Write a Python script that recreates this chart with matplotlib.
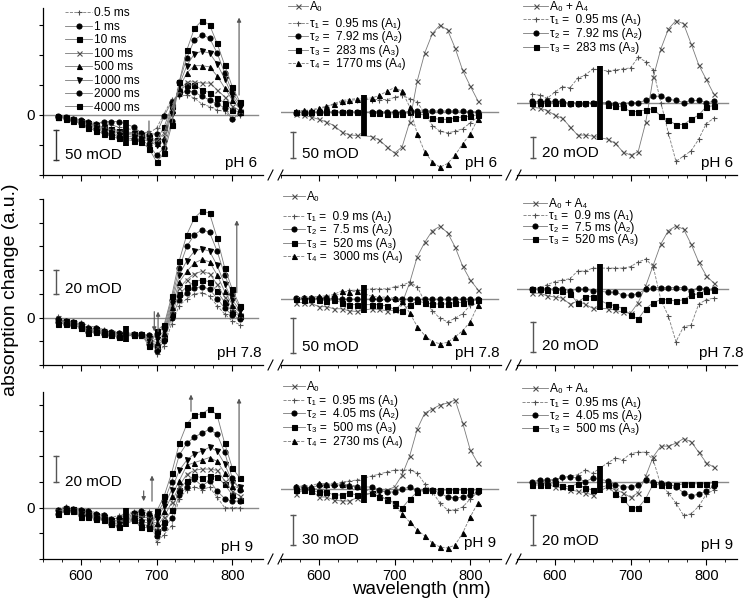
import matplotlib
matplotlib.use('Agg')
import matplotlib.pyplot as plt
from matplotlib.lines import Line2D

plt.rcParams['font.family'] = ['Liberation Sans', 'DejaVu Sans']

# ---------------- data ----------------
wavelengths = [570, 580, 590, 600, 610, 620, 630, 640, 650,
               670, 680, 690, 700, 710, 720, 730, 740, 750, 760, 770, 780, 790, 800, 810]

delay_labels = ['0.5 ms', '1 ms', '10 ms', '100 ms', '500 ms', '1000 ms', '2000 ms', '4000 ms']

# time-resolved spectra (mOD), one list per delay
ph6_delays = [
    [-2, -3, -5, -8, -10, -13, -15, -17, -20, -25, -28, -30, -22, 2, 26, 31, 33, 28, 18, 14, 8, 6, -7, 0],
    [-2, -3, -6, -9, -12, -15, -11, -11, -11, -20, -30, -33, -31, -2, 22, 35, 40, 38, 31, 25, 18, 12, -7, 3],
    [-3, -4, -7, -10, -14, -17, -20, -23, -26, -30, -33, -37, -42, -20, 15, 40, 50, 50, 42, 37, 28, 20, 8, 5],
    [-3, -4, -7, -11, -15, -18, -22, -25, -28, -32, -35, -40, -44, -30, 12, 40, 55, 55, 53, 53, 42, 30, 15, 7],
    [-3, -4, -8, -12, -16, -20, -24, -27, -30, -34, -37, -42, -47, -38, 8, 45, 70, 82, 82, 80, 65, 45, 25, 10],
    [-3, -5, -8, -13, -17, -22, -26, -30, -33, -37, -40, -44, -50, -45, 2, 50, 82, 102, 106, 103, 85, 60, 32, 14],
    [-4, -5, -9, -14, -19, -24, -28, -32, -36, -40, -42, -50, -67, -55, -10, 55, 95, 125, 133, 128, 103, 70, 38, 18],
    [-4, -6, -10, -15, -21, -27, -31, -35, -39, -43, -45, -56, -78, -64, -17, 55, 108, 144, 157, 150, 119, 83, 47, 22],
]
ph78_delays = [
    [1, -2, -3, -4, -7, -8, -10, -11, -12, -13, -15, -14, -31, -24, -5, 10, 16, 20, 21, 18, 10, 3, -3, -6],
    [-1, -3, -4, -5, -9, -9, -11, -12, -13, -14, -15, -15, -28, -20, 0, 15, 21, 25, 26, 24, 16, 8, 2, -1],
    [-2, -3, -4, -6, -10, -10, -12, -13, -14, -14, -15, -17, -26, -17, 3, 20, 26, 30, 32, 30, 22, 13, 5, 1],
    [-2, -4, -5, -6, -11, -11, -12, -13, -14, -15, -15, -18, -24, -15, 6, 25, 32, 37, 39, 37, 28, 17, 8, 2],
    [-3, -4, -5, -7, -11, -11, -13, -14, -15, -15, -15, -19, -21, -13, 9, 30, 39, 46, 49, 47, 36, 22, 11, 4],
    [-3, -4, -5, -7, -12, -12, -13, -14, -15, -15, -15, -21, -18, -11, 12, 36, 48, 56, 58, 56, 44, 28, 15, 6],
    [-4, -5, -6, -8, -12, -12, -14, -15, -16, -15, -14, -22, -14, -8, 15, 42, 60, 70, 74, 72, 56, 36, 20, 8],
    [-5, -5, -6, -9, -13, -12, -14, -15, -16, -15, -14, -24, -11, -6, 18, 48, 70, 84, 90, 88, 67, 42, 24, 10],
]
ph9_delays = [
    [-1, 1, 0, -1, -2, -4, -5, -8, -6, -3, -2, -3, -27, -21, -14, 7, 14, 16, 14, 16, 8, 0, 0, 0],
    [-2, 0, -1, -2, -3, -5, -6, -9, -8, -4, -3, -5, -22, -16, -8, 10, 16, 22, 17, 21, 13, 7, 5, 5],
    [-3, -1, -1, -3, -4, -6, -7, -10, -10, -5, -5, -7, -18, -11, -2, 14, 21, 25, 23, 25, 24, 18, 10, 6],
    [-3, -1, -2, -4, -5, -7, -8, -11, -11, -6, -7, -8, -15, -7, 4, 17, 26, 29, 30, 30, 29, 21, 13, 9],
    [-4, -2, -2, -5, -5, -8, -8, -12, -12, -7, -9, -10, -12, -3, 9, 21, 33, 35, 37, 39, 36, 27, 17, 15],
    [-4, -2, -3, -5, -6, -8, -9, -12, -13, -8, -11, -12, -9, 1, 14, 29, 37, 42, 44, 47, 44, 34, 20, 16],
    [-5, -3, -3, -6, -6, -9, -9, -13, -14, -9, -13, -14, -6, 5, 20, 41, 50, 55, 58, 61, 57, 43, 23, 14],
    [-5, -3, -3, -7, -7, -9, -10, -13, -15, -10, -15, -16, -3, 9, 27, 50, 65, 72, 73, 77, 72, 50, 31, 23],
]

# decay-associated spectra (mOD): A0, A1..A4
ph6_das_labels = ['A₀', 'τ₁ =  0.95 ms (A₁)', 'τ₂ =  7.92 ms (A₂)',
                  'τ₃ =  283 ms (A₃)', 'τ₄ =  1770 ms (A₄)']
ph6_das = [
    [-4.5, -6.4, -9.6, -14, -19, -26, -38, -44, -45, -47, -54, -67, -79, -67, -19, 60, 114, 151, 167, 158, 123, 80, 50, 22],
    [0, 1, 3, 6, 10, 15, 19, 22, 24, 24, 24, 24, 28, 32, 26, 19, -3, -26, -37, -40, -37, -32, -21, -9],
    [-1, -1, -1, 0, 0, 0, 0, 0, 0, 0, 0, 0, 0, 0, 1, 2, 2, 2, 2, 2, 2, 2, 1, 0],
    [0, 0, 0, 0, 0, 0, 0, 0, 0, -1, -2, -3, -4, -4, 0, -3, -6, -12, -14, -14, -12, -9, -8, -5],
    [2, 3, 4, 8, 11, 16, 22, 24, 26, 27, 32, 40, 47, 40, 10, -42, -77, -96, -106, -99, -83, -61, -42, -13],
]
ph78_das_labels = ['A₀', 'τ₁ =  0.9 ms (A₁)', 'τ₂ =  7.5 ms (A₂)',
                   'τ₃ =  520 ms (A₃)', 'τ₄ =  3000 ms (A₄)']
ph78_das = [
    [-5, -5, -6, -11, -11, -14, -14, -17, -18, -14, -15, -17, -16, -6, 24, 62, 83, 100, 106, 97, 76, 48, 28, 14],
    [-1, 0, 1, 2, 3, 5, 8, 13, 13, 15, 15, 15, 18, 20, 25, 18, -4, -17, -28, -33, -28, -21, -9, -6],
    [2, 1, 1, 1, 1, 1, 0, 0, 0, 0, 0, 0, 0, 0, 0, 0, 0, 0, 0, 0, 0, 0, 0, 0],
    [0, -1, 0, -1, -2, -1, -5, -8, -8, -8, -8, -10, -15, -17, -8, -3, -5, -7, -7, -7, -5, -5, -3, -1],
    [2, 3, 3, 4, 5, 7, 12, 10, 12, 4, 3, 3, 1, -3, -20, -40, -53, -62, -65, -63, -55, -46, -33, -9],
]
ph9_das_labels = ['A₀', 'τ₁ =  0.95 ms (A₁)', 'τ₂ =  4.05 ms (A₂)',
                  'τ₃ =  500 ms (A₃)', 'τ₄ =  2730 ms (A₄)']
ph9_das = [
    [-5, -1, -1, -8, -8, -11, -12, -12, -9, -4, -4, -1, 2, 14, 33, 60, 76, 80, 84, 86, 89, 66, 39, 26],
    [0, 0, 0, 0, 2, 4, 7, 8, 9, 13, 15, 17, 19, 19, 19, 16, 5, -3, -14, -21, -21, -18, -10, -3],
    [2, 2, 1, 4, 4, 4, 4, 3, 2, 2, -1, -3, -3, 0, 2, -1, -1, -1, -4, -8, -9, -8, -6, -3],
    [-1, -1, -2, -3, -3, -6, -6, -4, -6, -4, -8, -10, -14, -19, -10, -3, -1, -1, -1, -1, -1, -1, -1, -1],
    [3, 3, 3, 6, 5, 6, 5, 4, 3, -3, -6, -11, -16, -25, -33, -41, -47, -54, -58, -59, -56, -44, -28, -14],
]

# A0 + A4 together with A1..A3 (mOD)
ph6_sum_labels = ['A₀ + A₄', 'τ₁ =  0.95 ms (A₁)', 'τ₂ =  7.92 ms (A₂)', 'τ₃ =  283 ms (A₃)']
ph6_sum = [
    [-4.4, -5.4, -7.6, -12, -15, -23, -31, -31, -32, -35, -39, -47, -50, -47, -19, 24, 51, 70, 78, 75, 56, 36, 22, 8],
    [8, 7, 4, 10, 15, 14, 23, 26, 32, 30, 31, 32, 33, 43, 39, 31, 0, -29, -56, -51, -46, -35, -20, -15],
    [1, 1, 1, 1, 1, -1, -1, -1, 0, 0, -1, -1, 0, 0, 2, 6, 6, 3, 2, 0, 2, 2, 0, 1],
    [0, 0, 0, 0, 0, 0, 0, 0, 0, -2, -3, -4.4, -8.6, -8.6, -7, -6, -13, -17, -21, -21, -16, -12, -4, -3],
]
ph78_sum_labels = ['A₀ + A₄', 'τ₁ =  0.9 ms (A₁)', 'τ₂ =  7.5 ms (A₂)', 'τ₃ =  520 ms (A₃)']
ph78_sum = [
    [-2.7, -2.7, -4.4, -5.3, -6, -10, -8, -10, -12.7, -13, -14, -15.5, -16, -9, 2, 16, 30, 39, 42, 40, 30, 18, 9, 4],
    [0, 1, 3, 5, 6, 7, 12, 12, 14, 14, 14, 14, 15, 18, 20, 15, -7, -18, -35, -25, -24, -10, -7, -6],
    [0, 0, 0, 0, 0, -1, 0, 0, -1, -2, -2, -4, -4, -3, 0, 1, 1, 1, 1, 1, -1, 1, 0, 0],
    [0, 0, -0.4, -0.4, -1, -3, -9, -5, -5, -10, -11, -13, -17, -20, -13, -9, -7, -7, -8, -7, -4, -3, -1, -0.4],
]
ph9_sum_labels = ['A₀ + A₄', 'τ₁ =  0.95 ms (A₁)', 'τ₂ =  4.05 ms (A₂)', 'τ₃ =  500 ms (A₃)']
ph9_sum = [
    [-1, -0.7, -0.7, -3.3, -3.3, -5, -6, -7, -8.4, -3, -5, -7, -10, -7, 4, 17, 24, 24, 26, 29, 27, 20, 13, 10],
    [0, 1, 1, 2, 3, 4, 5, 8, 6, 13, 16, 15, 19, 20, 20, 15, -2, -7, -14, -22, -21, -16, -8, -5],
    [0.4, 1.5, 1.5, 1.5, 3.3, 3.8, 2.7, 0.4, 2.7, 1, -1.8, -2.9, -3.3, -1.8, 1.5, 0.4, -0.7, -1, -3, -7, -9, -8, -6, -2.4],
    [-1.8, -1.8, -1.8, -0.7, -2.4, -2.9, -1, -4, -5, -2, -8, -11, -17, -17, -11, -1, -2, -2, -2, -1, -1, -1, -1, -0.2],
]

# excitation-artefact bar at 660 nm (high, low) in mOD per panel
bar_ph6 = [(-8, -51), (33, -46), (35, -36)]
bar_ph78 = [(-7.5, -20.6), (20, -20), (17, -14)]
bar_ph9 = [(0, -15), (14, -14), (11, -7)]

scale_ph6 = [50, 50, 20]
scale_ph78 = [20, 50, 20]
scale_ph9 = [20, 30, 20]
ph_names = ['pH 6', 'pH 7.8', 'pH 9']

# ---------------- layout ----------------
W, H = 745, 609
fig = plt.figure(figsize=(W / 100, H / 100), dpi=100)
PXNM = 0.757
AXW = 290 * PXNM
col_left = [43, 281, 517]
row_tb = [(8, 175), (199, 365), (392, 559)]
ylims = [[(-100, 178), (-121, 200), (-69, 90)],
         [(-40, 100), (-96, 146), (-50.5, 60)],
         [(-40, 90), (-70, 97), (-51, 60)]]
left_ticks = [(-100, 150, 50), (-40, 100, 20), (-40, 80, 20)]

LC = '#7a7a7a'
delay_styles = [('+', '--'), ('o', '-'), ('s', '-'), ('x', '-'), ('^', '-'), ('v', '-'), ('o', '-'), ('s', '-')]
das_styles = [('x', '-'), ('+', '--'), ('o', '-'), ('s', '-'), ('^', '--')]
sum_styles = [('x', '-'), ('+', '--'), ('o', '-'), ('s', '-')]


def fx(x):
    return x / W


def fy(y):
    return 1 - y / H


def mcol(marker):
    return '#505050' if marker in ('x', '+') else 'black'


def draw_series(ax, values, marker, ls):
    c = mcol(marker)
    ax.plot(wavelengths, values, ls, color=LC, lw=0.6, marker=marker, ms=3.6,
            mfc=c, mec=c, mew=0.8)


def manual_legend(styles, labels, x0, x1, ys):
    for (m, ls), lab, y in zip(styles, labels, ys):
        fig.add_artist(Line2D([fx(x0), fx(x1)], [fy(y), fy(y)], color=LC, lw=0.6, ls=ls,
                              transform=fig.transFigure))
        c = mcol(m)
        fig.add_artist(Line2D([fx((x0 + x1) / 2)], [fy(y)], marker=m, ms=3.6, mfc=c, mec=c,
                              mew=0.8, ls='none', transform=fig.transFigure))
        # baseline placed so that capital letters are centred on the handle line
        fig.text(fx(x1 + 2), fy(y + 4.3), lab, fontsize=8.6, ha='left', va='baseline')


all_delays = [ph6_delays, ph78_delays, ph9_delays]
all_das = [(ph6_das, ph6_das_labels), (ph78_das, ph78_das_labels), (ph9_das, ph9_das_labels)]
all_sum = [(ph6_sum, ph6_sum_labels), (ph78_sum, ph78_sum_labels), (ph9_sum, ph9_sum_labels)]
all_bars = [bar_ph6, bar_ph78, bar_ph9]
all_scales = [scale_ph6, scale_ph78, scale_ph9]

scale_bar_pos = [
    [(567, -25, -75, -67), (565.5, -39, -89, -81), (570.7, -32.4, -52.4, -48)],
    [(567, 40, 20, 24), (565.5, -28, -78, -70), (570.7, -22, -42, -38)],
    [(567, 40, 20, 20), (565.5, -26, -56, -51), (570.7, -22, -42, -39)],
]
ph_pos = [[(257, 163), (497, 163), (733, 163)],
          [(262, 353), (500, 353), (744, 353)],
          [(253, 547), (496, 543), (733, 545)]]
legend_geom = {
    (0, 0): (65, 92, [12 + 13.5 * i for i in range(8)]),
    (0, 1): (288, 308, [6, 23, 36, 50, 63]),
    (0, 2): (523, 548, [6, 19, 33, 47]),
    (1, 1): (283, 305, [196, 216, 229, 243, 256]),
    (1, 2): (523, 547, [203, 214.5, 226.5, 238.5]),
    (2, 1): (283, 305, [386, 400, 413, 427, 441]),
    (2, 2): (522, 548, [388, 402, 415, 428]),
}
arrows = [
    [(690, -10, -35), (809, 33, 162)],
    [(697, 5, -11.7), (702, -11.7, 5), (806, 21, 82)],
    [(683, 13, 5), (694, 5, 25), (745.5, 75, 88), (809, 24, 85)],
]

for r in range(3):
    top, bot = row_tb[r]
    for c in range(3):
        ax = fig.add_axes([col_left[c] / W, 1 - bot / H, AXW / W, (bot - top) / H])
        ax.set_xlim(550, 840)
        ax.set_ylim(*ylims[r][c])
        ax.patch.set_alpha(0)
        for s in ('top', 'right'):
            ax.spines[s].set_visible(False)
        ax.spines['bottom'].set_linewidth(0.9)
        ax.set_xticks([600, 700, 800])
        ax.set_xticks(list(range(550, 841, 25)), minor=True)
        ax.tick_params(axis='x', which='major', direction='out', length=4, width=0.8,
                       labelsize=10.5, labelbottom=(r == 2), pad=3)
        ax.tick_params(axis='x', which='minor', direction='out', length=2.2, width=0.6)
        if c == 0:
            lo, hi, st = left_ticks[r]
            ticks = list(range(lo, hi + 1, st))
            ax.set_yticks(ticks)
            ax.set_yticklabels(['0' if t == 0 else '' for t in ticks])
            ax.tick_params(axis='y', direction='out', length=3, width=0.8, labelsize=11, pad=3)
            ax.spines['left'].set_linewidth(0.9)
            ax.axhline(0, color='#8a8a8a', lw=1.0, xmin=0, xmax=0.98)
        else:
            ax.spines['left'].set_visible(False)
            ax.tick_params(axis='y', left=False, labelleft=False)
            ax.axhline(0, color='#8a8a8a', lw=1.0, xmin=0.0, xmax=0.96 if c == 2 else 0.99)

        if c == 0:
            styles, labels = delay_styles, delay_labels
            data = all_delays[r]
        elif c == 1:
            styles = das_styles
            data, labels = all_das[r]
        else:
            styles = sum_styles
            data, labels = all_sum[r]
        for (m, ls), vals in zip(styles, data):
            draw_series(ax, vals, m, ls)

        # artefact bar at 660 nm
        b_hi, b_lo = all_bars[r][c]
        ax.plot([660, 660], [b_lo, b_hi], color='black', lw=4.2, solid_capstyle='butt', zorder=5)

        # scale bar
        sx, sy0, sy1, ty = scale_bar_pos[r][c]
        bar_col = '#333333' if (r == 0 and c == 0) else '#555555'
        ax.plot([sx, sx], [sy0, sy1], color=bar_col, lw=1.0, marker='_', ms=4, mew=1.0)
        ax.text(sx + 12, ty, f'{all_scales[r][c]} mOD', fontsize=11, va='center', ha='left')

        # pH label
        px, py = ph_pos[r][c]
        fig.text(fx(px), fy(py), ph_names[r], fontsize=11, ha='right', va='center')

        # legend
        if (r, c) in legend_geom:
            x0, x1, ys = legend_geom[(r, c)]
            manual_legend(styles, labels, x0, x1, ys)

        # arrows
        if c == 0:
            for ax_x, y0, y1 in arrows[r]:
                ax.annotate('', xy=(ax_x, y1), xytext=(ax_x, y0),
                            arrowprops=dict(arrowstyle='-|>', lw=0.8, color='#555555',
                                            mutation_scale=6, shrinkA=0, shrinkB=0))

    # axis break marks
    for bx in (268, 278, 506, 516):
        fig.add_artist(Line2D([fx(bx), fx(bx + 5)], [fy(bot + 5), fy(bot - 5)],
                              color='black', lw=0.8, transform=fig.transFigure))

fig.text(fx(11), fy(290), 'absorption change (a.u.)', rotation=90, fontsize=14,
         ha='center', va='center')
fig.text(fx(421), fy(590), 'wavelength (nm)', fontsize=13.5, ha='center', va='center')

fig.savefig('out.png', dpi=100)
